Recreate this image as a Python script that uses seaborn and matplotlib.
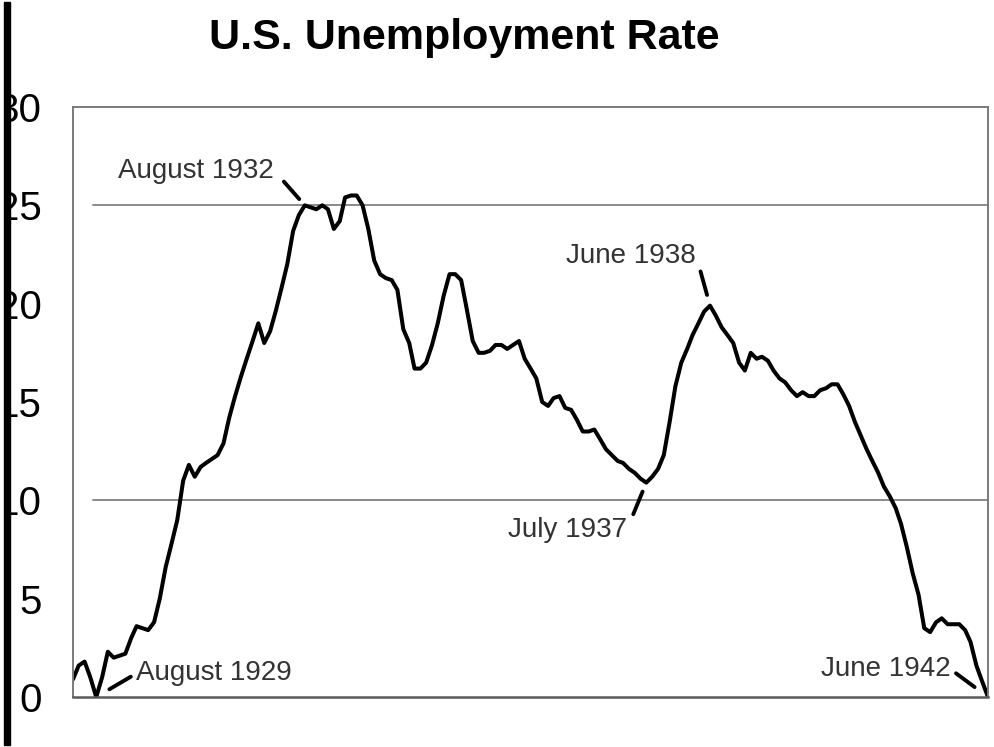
import pandas as pd
import seaborn as sns
import matplotlib.pyplot as plt
from matplotlib.patches import Rectangle
from matplotlib.ticker import MultipleLocator

# Monthly unemployment rate, April 1929 - June 1942
start_month = '1929-04'
end_month = '1942-06'
rate = [
    0.9, 1.6, 1.8, 1.0, 0.0, 1.0, 2.3, 2.0, 2.1, 2.2, 3.0, 3.6, 3.5, 3.4, 3.8,
    5.0, 6.6, 7.8, 9.0, 11.0, 11.8, 11.2, 11.7, 11.9, 12.1, 12.3, 12.9, 14.2,
    15.3, 16.3, 17.2, 18.1, 19.0, 18.0, 18.6, 19.6, 20.8, 22.0, 23.7, 24.5,
    25.0, 24.9, 24.8, 25.0, 24.8, 23.8, 24.2, 25.4, 25.5, 25.5, 25.0, 23.8,
    22.2, 21.5, 21.3, 21.2, 20.7, 18.7, 18.0, 16.7, 16.7, 17.0, 17.9, 19.0,
    20.4, 21.5, 21.5, 21.2, 19.7, 18.1, 17.5, 17.5, 17.6, 17.9, 17.9, 17.7,
    17.9, 18.1, 17.2, 16.7, 16.2, 15.0, 14.8, 15.2, 15.3, 14.7, 14.6, 14.1,
    13.5, 13.5, 13.6, 13.1, 12.6, 12.3, 12.0, 11.9, 11.6, 11.4, 11.1, 10.9,
    11.2, 11.6, 12.3, 14.0, 15.8, 17.0, 17.7, 18.4, 19.0, 19.6, 19.9, 19.4,
    18.8, 18.4, 18.0, 17.0, 16.6, 17.5, 17.2, 17.3, 17.1, 16.6, 16.2, 16.0,
    15.6, 15.3, 15.5, 15.3, 15.3, 15.6, 15.7, 15.9, 15.9, 15.4, 14.8, 14.0,
    13.3, 12.6, 12.0, 11.4, 10.7, 10.2, 9.6, 8.8, 7.6, 6.3, 5.2, 3.5, 3.3,
    3.8, 4.0, 3.7, 3.7, 3.7, 3.4, 2.8, 1.6, 0.8, 0.0,
]
y_ticks = [0, 5, 10, 15, 20, 25, 30]
grid_levels = [10, 25]

# labelled months: label, month, text offset (pt), alignment, line shrink at text / at point
notes = [
    ('August 1929', '1929-08', (29, 17), 'left', 2, 11),
    ('August 1932', '1932-08', (-22, 25), 'right', 7, 6),
    ('July 1937', '1937-07', (-14, -34), 'right', 6, 7),
    ('June 1938', '1938-06', (-10, 36), 'right', 3, 8),
    ('June 1942', '1942-06', (-27, 20), 'right', 2, 12),
]

df = pd.DataFrame({'month': pd.date_range(start_month, end_month, freq='MS'),
                   'rate': rate})

sns.set_style('white')
plt.rcParams['font.family'] = ['Liberation Sans', 'DejaVu Sans']

fig = plt.figure(figsize=(9.94, 7.47), dpi=100)
ax = fig.add_axes([73 / 994, 1 - 697 / 747, 915 / 994, 590 / 747])

sns.lineplot(data=df, x='month', y='rate', color='black', lw=2.9, ax=ax)

for level in grid_levels:
    ax.axhline(level, xmin=0.022, color='#8a8a8a', lw=1.4, zorder=0)

ax.set_xlim(df['month'].iloc[0], df['month'].iloc[-1])
ax.set_ylim(0, 30)
ax.set_xticks([])
ax.set_yticks(y_ticks)
ax.set_yticklabels([str(t) for t in y_ticks])
ax.yaxis.set_minor_locator(MultipleLocator(2.5))
ax.tick_params(axis='y', which='major', direction='inout', length=18, width=1.4,
               color='#7a7a7a', pad=13.5, labelsize=29, labelcolor='black')
ax.tick_params(axis='y', which='minor', direction='inout', length=14, width=1.4,
               color='#7a7a7a')
ax.set_xlabel('')
ax.set_ylabel('')
for side in ['left', 'right', 'top']:
    ax.spines[side].set_color('#7a7a7a')
    ax.spines[side].set_linewidth(1.4)
ax.spines['bottom'].set_color('#5a5a5a')
ax.spines['bottom'].set_linewidth(1.8)

rate_by_month = df.set_index('month')['rate']
for label, month, offset, ha, sa, sb in notes:
    when = pd.Timestamp(month)
    ax.annotate(label, xy=(when, rate_by_month[when]), xytext=offset,
                textcoords='offset points', ha=ha, va='center',
                fontsize=20, color='#333333', annotation_clip=False,
                arrowprops=dict(arrowstyle='-', color='black', lw=2.8,
                                relpos=(1 if ha == 'right' else 0, 0.5),
                                shrinkA=sa, shrinkB=sb))

fig.text(464 / 994, 1 - 49 / 747, 'U.S. Unemployment Rate', ha='center',
         va='baseline', fontsize=31, fontweight='bold', color='black')

# cropped left edge with black rule
fig.add_artist(Rectangle((0, 0), 4 / 994, 1, transform=fig.transFigure,
                         color='white', zorder=5))
fig.add_artist(Rectangle((4 / 994, 2 / 747), 6 / 994, 743 / 747,
                         transform=fig.transFigure, color='black', zorder=6))

fig.savefig('out.png', dpi=100)
